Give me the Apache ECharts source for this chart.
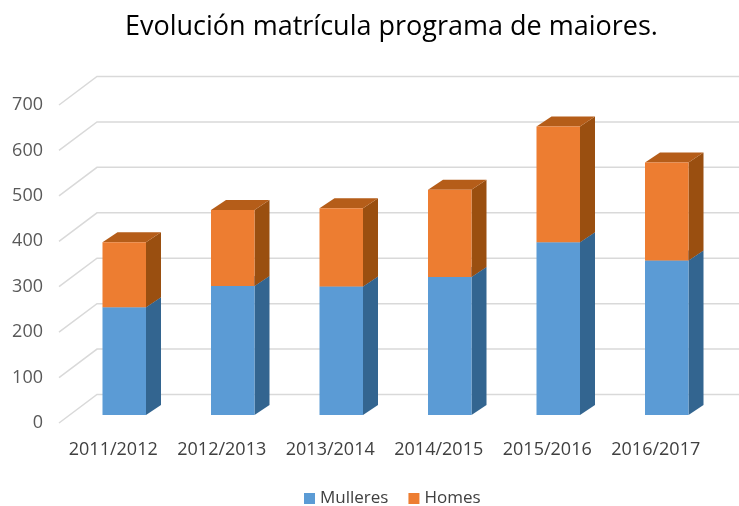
<!DOCTYPE html>
<html>
<head>
<meta charset="utf-8">
<script src="https://cdn.jsdelivr.net/npm/echarts@6/dist/echarts.min.js"></script>
<style>html,body{margin:0;padding:0;background:#fff;}#c{width:739px;height:506px;}</style>
</head>
<body>
<div id="c"></div>
<script>
var categories = ['2011/2012', '2012/2013', '2013/2014', '2014/2015', '2015/2016', '2016/2017'];
var mulleres = [237, 284, 283, 304, 380, 340];
var homes = [143, 167, 172, 192, 255, 216];
var yTicks = [0, 100, 200, 300, 400, 500, 600, 700];

var FONT = '"Open Sans", sans-serif';
var BAR_DX = 11, BAR_DY = -8;     // bar plane offset from front plane
var SIDE_DX = 15, SIDE_DY = -10;  // bar depth
var WALL_DX = 38, WALL_DY = -28.5; // back wall offset
var BAR_W = 43.5;

function barRender(baseArr, fronts, sides, tops) {
  return function (params, api) {
    var i = api.value(0);
    var v = api.value(1);
    var base = baseArr ? baseArr[i] : 0;
    var p1 = api.coord([i, base + v]);
    var p0 = api.coord([i, base]);
    var cx = p1[0] + BAR_DX;
    var x0 = cx - BAR_W / 2, x1 = cx + BAR_W / 2;
    var yt = p1[1] + BAR_DY, yb = p0[1] + BAR_DY;
    return {
      type: 'group',
      children: [
        { type: 'polygon', shape: { points: [[x1, yt], [x1 + SIDE_DX, yt + SIDE_DY], [x1 + SIDE_DX, yb + SIDE_DY], [x1, yb]] }, style: { fill: sides } },
        { type: 'polygon', shape: { points: [[x0, yt], [x0 + SIDE_DX, yt + SIDE_DY], [x1 + SIDE_DX, yt + SIDE_DY], [x1, yt]] }, style: { fill: tops } },
        { type: 'rect', shape: { x: x0, y: yt, width: BAR_W, height: yb - yt }, style: { fill: fronts } }
      ]
    };
  };
}

var chart = echarts.init(document.getElementById('c'), null, { renderer: 'canvas' });
chart.setOption({
  animation: false,
  backgroundColor: '#ffffff',
  title: {
    text: 'Evolución matrícula programa de maiores.',
    left: 120,
    top: 9,
    textStyle: { fontFamily: FONT, fontSize: 27, fontWeight: 'normal', color: '#000000' }
  },
  legend: {
    top: 485,
    left: 299,
    itemWidth: 11,
    itemHeight: 11,
    itemGap: 20,
    icon: 'rect',
    textStyle: { fontFamily: FONT, fontSize: 17, color: '#404040' },
    data: ['Mulleres', 'Homes']
  },
  grid: { left: 59, width: 651, top: 105, bottom: 83 },
  xAxis: {
    type: 'category',
    data: categories,
    axisLine: { show: false },
    axisTick: { show: false },
    axisLabel: { fontFamily: FONT, fontSize: 18, color: '#404040', margin: 18, interval: 0 }
  },
  yAxis: {
    type: 'value',
    min: 0,
    max: 700,
    interval: 100,
    axisLine: { show: false },
    axisTick: { show: false },
    splitLine: { show: false },
    axisLabel: { fontFamily: FONT, fontSize: 18, color: '#595959', margin: 16 }
  },
  series: [
    {
      type: 'custom',
      name: 'grid',
      silent: true,
      z: 1,
      data: yTicks.map(function (t) { return [0, t]; }),
      renderItem: function (params, api) {
        var p = api.coord([0, api.value(1)]);
        var gx = params.coordSys.x;
        var y = p[1];
        return {
          type: 'polyline',
          shape: { points: [[gx, y], [gx + WALL_DX, y + WALL_DY], [745, y + WALL_DY]] },
          style: { stroke: '#d9d9d9', lineWidth: 1.5, fill: null }
        };
      }
    },
    {
      type: 'custom',
      name: 'Mulleres',
      z: 2,
      itemStyle: { color: '#5B9BD5' },
      data: mulleres.map(function (v, i) { return [i, v]; }),
      renderItem: barRender(null, '#5B9BD5', '#336590', '#4a82b5')
    },
    {
      type: 'custom',
      name: 'Homes',
      z: 3,
      itemStyle: { color: '#ED7D31' },
      data: homes.map(function (v, i) { return [i, v]; }),
      renderItem: barRender(mulleres, '#ED7D31', '#9A4F10', '#B55D19')
    }
  ]
});
</script>
</body>
</html>
